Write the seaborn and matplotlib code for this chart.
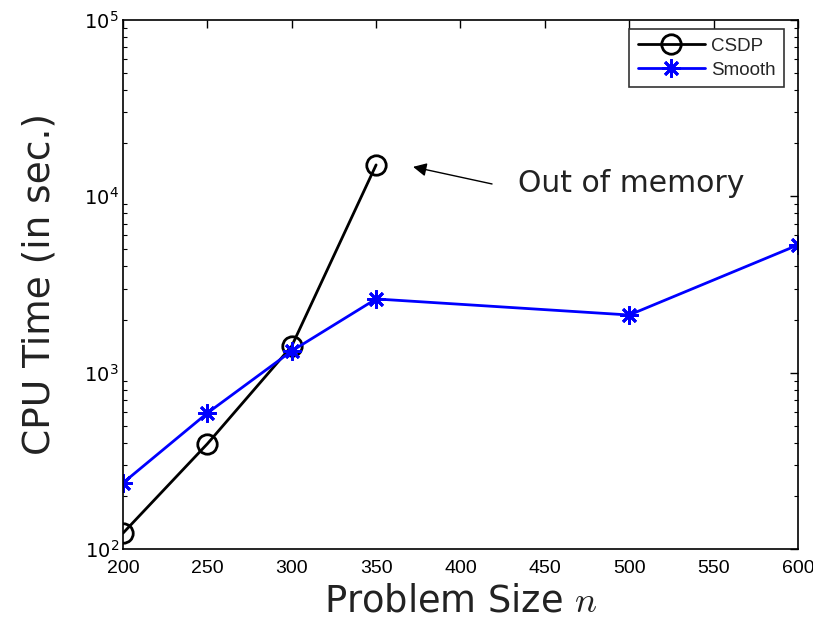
import matplotlib
matplotlib.use("Agg")
import matplotlib.pyplot as plt
import seaborn as sns
import pandas as pd
import numpy as np
from matplotlib.ticker import LogLocator, FixedLocator, NullFormatter

sns.set_theme(style="white")
plt.rcParams['font.family'] = ['DejaVu Sans']
plt.rcParams['mathtext.fontset'] = 'custom'
plt.rcParams['mathtext.rm'] = 'Liberation Sans'
plt.rcParams['mathtext.it'] = 'Liberation Sans:italic'

# data
csdp_n = [200, 250, 300, 350]
csdp_t = [123, 395, 1415, 15070]
smooth_n = [200, 250, 300, 350, 500, 600]
smooth_t = [237, 590, 1327, 2618, 2123, 5296]
xticks = [200, 250, 300, 350, 400, 450, 500, 550, 600]

df_c = pd.DataFrame({"n": csdp_n, "t": csdp_t})
df_s = pd.DataFrame({"n": smooth_n, "t": smooth_t})

fig = plt.figure(figsize=(8.13, 6.36), dpi=100)
ax = fig.add_axes([0.1513, 0.1368, 0.8302, 0.8318])

sns.lineplot(data=df_c, x="n", y="t", ax=ax, color="black", linewidth=2,
             marker="o", markersize=14, markerfacecolor="none",
             markeredgecolor="black", markeredgewidth=2, label="CSDP")
sns.lineplot(data=df_s, x="n", y="t", ax=ax, color="blue", linewidth=2,
             marker=(8, 2, 0), markersize=13, markeredgecolor="blue",
             markeredgewidth=2, label="Smooth")

ax.set_yscale("log")
ax.set_xlim(200, 600)
ax.set_ylim(1e2, 1e5)
ax.xaxis.set_major_locator(FixedLocator(xticks))
ax.yaxis.set_major_locator(LogLocator(base=10, numticks=10))
ax.yaxis.set_minor_locator(LogLocator(base=10, subs=np.arange(2, 10), numticks=20))
ax.yaxis.set_minor_formatter(NullFormatter())

ax.tick_params(axis="both", which="both", direction="in", top=True, right=True,
               labelsize=14, colors="black")
ax.tick_params(axis="x", which="major", pad=8)
ax.tick_params(axis="y", which="major", pad=3)
ax.tick_params(axis="both", which="major", length=6, width=1)
ax.tick_params(axis="y", which="minor", length=3, width=0.8, left=True, right=True)
for lbl in ax.get_xticklabels():
    lbl.set_family("Liberation Sans")

for s in ax.spines.values():
    s.set_color("black")
    s.set_linewidth(1.2)

ax.set_xlabel(r"Problem Size $n$", fontsize=26.5, color="#222222", labelpad=4,
              math_fontfamily="cm")
ax.set_ylabel("CPU Time (in sec.)", fontsize=27, color="#222222", labelpad=19)

# arrow and text for the "out of memory" note
ax.annotate("", xy=(371.9, 14690), xytext=(418.7, 11750),
            arrowprops=dict(arrowstyle="-|>", color="black", lw=1,
                            mutation_scale=20, shrinkA=0, shrinkB=0))
ax.text(434, 11750, "Out of memory", fontsize=21.5, color="#222222",
        va="center", ha="left")

leg = ax.legend(loc="upper right", frameon=True, fancybox=False,
                edgecolor="black", handlelength=3.6, handletextpad=0.3,
                borderpad=0.45, labelspacing=0.35,
                bbox_to_anchor=(0.979, 0.982), borderaxespad=0,
                prop={"family": "Liberation Sans", "size": 13.5})
leg.get_frame().set_linewidth(1.2)

fig.savefig("out.png", dpi=100)
